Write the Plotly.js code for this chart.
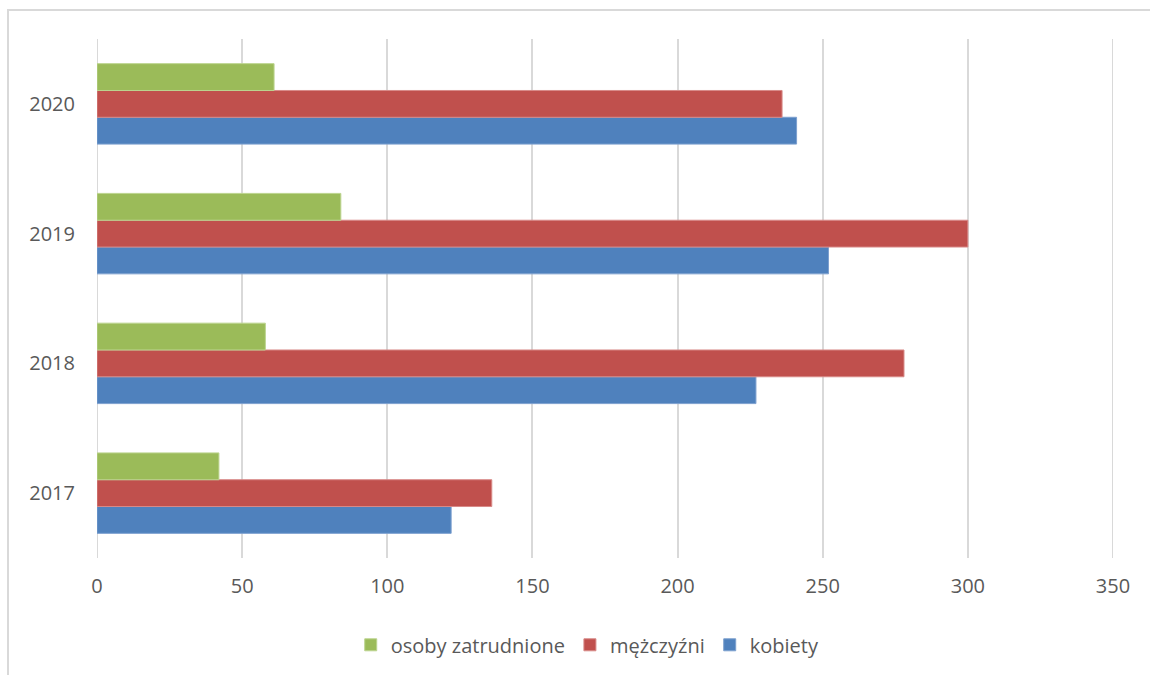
<!DOCTYPE html>
<html><head><meta charset="utf-8">
<script src="https://cdn.plot.ly/plotly-3.0.1.min.js"></script>
<style>html,body{margin:0;padding:0;background:#fff;}#chart{width:1150px;height:675px;}</style>
</head><body><div id="chart"></div>
<script>
const years = ['2017', '2018', '2019', '2020'];
const kobiety = [122, 227, 252, 241];
const mezczyzni = [136, 278, 300, 236];
const zatrudnione = [42, 58, 84, 61];
const xTicks = [0, 50, 100, 150, 200, 250, 300, 350];

const traces = [
  {name: 'kobiety', y: years, x: kobiety, type: 'bar', orientation: 'h',
   marker: {color: '#4F81BD', line: {color: '#7da0cf', width: 1}}},
  {name: 'mężczyźni', y: years, x: mezczyzni, type: 'bar', orientation: 'h',
   marker: {color: '#C0504D', line: {color: '#d88a88', width: 1}}},
  {name: 'osoby zatrudnione', y: years, x: zatrudnione, type: 'bar', orientation: 'h',
   marker: {color: '#9BBB59', line: {color: '#bcd48f', width: 1}}}
];

const layout = {
  width: 1150, height: 675,
  margin: {l: 97, r: 37, t: 39, b: 116},
  paper_bgcolor: '#fff', plot_bgcolor: '#fff',
  font: {family: 'Open Sans, sans-serif', size: 20, color: '#595959'},
  barmode: 'group', bargap: 0.38, bargroupgap: 0,
  showlegend: true,
  legend: {orientation: 'h', traceorder: 'reversed', x: 0.483, xanchor: 'center', y: -0.165, yanchor: 'middle',
           bgcolor: 'rgba(0,0,0,0)', itemwidth: 30, font: {size: 20, color: '#595959'}},
  xaxis: {range: [0, 350], tickvals: xTicks, ticktext: xTicks.map(String), showgrid: true, gridcolor: '#d9d9d9', gridwidth: 2,
          zeroline: false, showline: false, ticks: '', ticklabelstandoff: 14, fixedrange: true},
  yaxis: {type: 'category', categoryarray: years, showgrid: false, zeroline: false, showline: false, ticks: '',
          ticklabelstandoff: 21, fixedrange: true},
  shapes: [
    {type: 'line', xref: 'x', yref: 'paper', x0: 0, x1: 0, y0: 0, y1: 1, line: {color: '#d9d9d9', width: 2}, layer: 'below'},
    {type: 'line', xref: 'x', yref: 'paper', x0: 350, x1: 350, y0: 0, y1: 1, line: {color: '#d9d9d9', width: 2}, layer: 'below'},
    {type: 'rect', xref: 'paper', yref: 'paper', x0: -0.0876, x1: 1.2, y0: -0.4, y1: 1.0558,
     line: {color: '#d9d9d9', width: 2}, fillcolor: 'rgba(0,0,0,0)'}
  ]
};
Plotly.newPlot('chart', traces, layout, {displayModeBar: false, staticPlot: true});
</script></body></html>
